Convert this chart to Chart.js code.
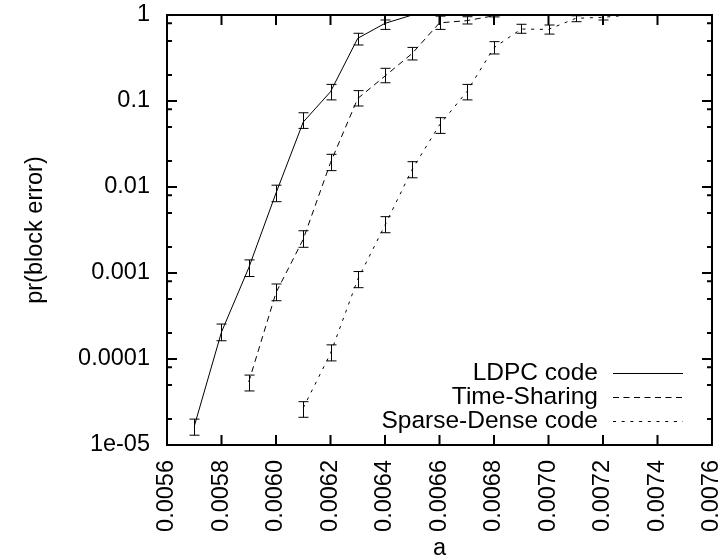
<!DOCTYPE html>
<html>
<head>
<meta charset="utf-8">
<script src="https://cdn.jsdelivr.net/npm/chart.js@4/dist/chart.umd.min.js"></script>
<style>
  html, body { margin: 0; padding: 0; background: #fff; }
  #wrap { width: 725px; height: 560px; }
</style>
</head>
<body>
<div id="wrap"><canvas id="c"></canvas></div>
<script>
// ---- data ----
const ldpcX  = [0.0057, 0.0058, 0.0059, 0.0060, 0.0061, 0.0062, 0.0063, 0.0064, 0.0065, 0.0066,
                0.0067, 0.0068, 0.0069, 0.0070, 0.0071, 0.0072, 0.0073, 0.0074, 0.0075, 0.0076];
const ldpcY  = [1.65e-5, 2.06e-4, 1.15e-3, 8.5e-3, 0.057, 0.128, 0.536, 0.80, 1, 1,
                1, 1, 1, 1, 1, 1, 1, 1, 1, 1];
const ldpcLo = [1.3e-5, 1.63e-4, 9.1e-4, 6.75e-3, 0.048, 0.103, 0.448, 0.68, 1, 1,
                1, 1, 1, 1, 1, 1, 1, 1, 1, 1];
const ldpcHi = [2.0e-5, 2.55e-4, 1.42e-3, 0.0105, 0.073, 0.156, 0.613, 0.875, 1, 1,
                1, 1, 1, 1, 1, 1, 1, 1, 1, 1];

const tsX  = [0.0059, 0.0060, 0.0061, 0.0062, 0.0063, 0.0064, 0.0065, 0.0066, 0.0067,
              0.0068, 0.0069, 0.0070, 0.0071, 0.0072, 0.0073, 0.0074, 0.0075, 0.0076];
const tsY  = [5.4e-5, 5.9e-4, 2.47e-3, 0.0192, 0.107, 0.195, 0.358, 0.81, 0.86,
              0.98, 1, 1, 1, 1, 1, 1, 1, 1];
const tsLo = [4.25e-5, 4.76e-4, 1.99e-3, 0.0155, 0.0875, 0.163, 0.30, 0.68, 0.786,
              0.95, 1, 1, 1, 1, 1, 1, 1, 1];
const tsHi = [6.5e-5, 7.45e-4, 3.1e-3, 0.024, 0.132, 0.24, 0.42, 0.97, 0.955,
              1, 1, 1, 1, 1, 1, 1, 1, 1];

const sdX  = [0.0061, 0.0062, 0.0063, 0.0064, 0.0065, 0.0066, 0.0067, 0.0068,
              0.0069, 0.0070, 0.0071, 0.0072, 0.0073, 0.0074, 0.0075, 0.0076];
const sdY  = [2.7e-5, 1.16e-4, 8.45e-4, 3.6e-3, 0.0161, 0.0526, 0.128, 0.417,
              0.687, 0.68, 0.915, 0.94, 1, 1, 1, 1];
const sdLo = [2.1e-5, 9.5e-5, 6.75e-4, 2.94e-3, 0.0128, 0.042, 0.103, 0.352,
              0.613, 0.60, 0.836, 0.875, 1, 1, 1, 1];
const sdHi = [3.19e-5, 1.46e-4, 1.04e-3, 4.52e-3, 0.0197, 0.064, 0.156, 0.49,
              0.78, 0.765, 0.98, 1, 1, 1, 1, 1];

const seriesNames = ['LDPC code', 'Time-Sharing', 'Sparse-Dense code'];

const xTicks = [0.0056, 0.0058, 0.0060, 0.0062, 0.0064, 0.0066, 0.0068, 0.0070, 0.0072, 0.0074, 0.0076];
const xTickLabels = ['0.0056', '0.0058', '0.0060', '0.0062', '0.0064', '0.0066', '0.0068', '0.0070', '0.0072', '0.0074', '0.0076'];
const yTicks = [1e-5, 1e-4, 1e-3, 1e-2, 1e-1, 1];
const yTickLabels = ['1e-05', '0.0001', '0.001', '0.01', '0.1', '1'];
const yMinorSteps = [2, 5, 8];

const DASHES = [[], [6, 4.5], [3, 5.7]];
const FONT = "'Liberation Sans', Arial, Helvetica, sans-serif";

Chart.defaults.font.family = FONT;
Chart.defaults.font.size = 23.5;
Chart.defaults.color = '#000';

function toPoints(xs, ys) {
    return xs.map((x, i) => ({ x: x, y: ys[i] }));
}

const errBars = [[ldpcX, ldpcLo, ldpcHi], [tsX, tsLo, tsHi], [sdX, sdLo, sdHi]];

// gnuplot style frame, inward ticks, error bars and in-plot key
const gnuplotLook = {
    id: 'gnuplotLook',
    afterDatasetsDraw(chart) {
        const ctx = chart.ctx;
        const xs = chart.scales.x, ys = chart.scales.y;
        ctx.save();
        ctx.strokeStyle = '#000';
        ctx.lineWidth = 1;
        errBars.forEach(([xv, lo, hi]) => {
            xv.forEach((x, i) => {
                if (lo[i] === hi[i]) return;
                const px = Math.round(xs.getPixelForValue(x)) + 0.5;
                const pLo = ys.getPixelForValue(lo[i]);
                const pHi = ys.getPixelForValue(hi[i]);
                ctx.beginPath();
                ctx.moveTo(px, pLo); ctx.lineTo(px, pHi);
                ctx.moveTo(px - 5, pLo); ctx.lineTo(px + 5, pLo);
                ctx.moveTo(px - 5, pHi); ctx.lineTo(px + 5, pHi);
                ctx.stroke();
            });
        });
        ctx.restore();
    },
    afterDraw(chart) {
        const ctx = chart.ctx;
        const a = chart.chartArea;
        const xs = chart.scales.x, ys = chart.scales.y;
        ctx.save();
        ctx.strokeStyle = '#000';
        ctx.lineWidth = 2;
        ctx.strokeRect(a.left, a.top, a.right - a.left, a.bottom - a.top);

        ctx.beginPath();
        xTicks.forEach(v => {
            const px = xs.getPixelForValue(v);
            ctx.moveTo(px, a.bottom); ctx.lineTo(px, a.bottom - 10);
            ctx.moveTo(px, a.top); ctx.lineTo(px, a.top + 10);
        });
        yTicks.forEach(v => {
            const py = ys.getPixelForValue(v);
            ctx.moveTo(a.left, py); ctx.lineTo(a.left + 10, py);
            ctx.moveTo(a.right, py); ctx.lineTo(a.right - 10, py);
            if (v < 1) {
                yMinorSteps.forEach(m => {
                    const pm = ys.getPixelForValue(v * m);
                    ctx.moveTo(a.left, pm); ctx.lineTo(a.left + 5, pm);
                    ctx.moveTo(a.right, pm); ctx.lineTo(a.right - 5, pm);
                });
            }
        });
        ctx.stroke();

        // key, bottom right inside the frame
        ctx.font = '24.5px ' + FONT;
        ctx.fillStyle = '#000';
        ctx.textAlign = 'right';
        ctx.textBaseline = 'middle';
        ctx.lineWidth = 1;
        seriesNames.forEach((name, i) => {
            const y = 373 + i * 24;
            ctx.fillText(name, 598, y);
            ctx.setLineDash(DASHES[i]);
            ctx.beginPath();
            ctx.moveTo(613, y + 0.5); ctx.lineTo(683, y + 0.5);
            ctx.stroke();
        });
        ctx.setLineDash([]);
        ctx.restore();
    }
};

function noPad(s) {
    s.paddingTop = 0; s.paddingBottom = 0; s.paddingLeft = 0; s.paddingRight = 0;
}

function lineSet(label, xs, ys, dash) {
    return {
        label: label,
        data: toPoints(xs, ys),
        borderColor: '#000',
        backgroundColor: '#000',
        borderWidth: 1,
        borderDash: dash,
        pointRadius: 0,
        fill: false,
        tension: 0,
    };
}

new Chart(document.getElementById('c'), {
    type: 'line',
    data: {
        datasets: [
            lineSet(seriesNames[0], ldpcX, ldpcY, DASHES[0]),
            lineSet(seriesNames[1], tsX, tsY, DASHES[1]),
            lineSet(seriesNames[2], sdX, sdY, DASHES[2]),
        ]
    },
    options: {
        responsive: true,
        maintainAspectRatio: false,
        animation: false,
        layout: { padding: { top: 15, right: 13, left: 0, bottom: 0 } },
        scales: {
            x: {
                type: 'linear',
                min: 0.0056,
                max: 0.0076,
                grid: { display: false, drawTicks: false },
                border: { display: false },
                afterBuildTicks: s => { s.ticks = xTicks.map(v => ({ value: v })); },
                afterFit: s => { s.height = 115; noPad(s); },
                ticks: {
                    autoSkip: false,
                    minRotation: 90,
                    maxRotation: 90,
                    padding: 15,
                    callback: (v, i) => xTickLabels[i],
                },
                title: { display: true, text: 'a', padding: { top: 0, bottom: -3 } },
            },
            y: {
                type: 'logarithmic',
                min: 1e-5,
                max: 1,
                grid: { display: false, drawTicks: false },
                border: { display: false },
                afterBuildTicks: s => { s.ticks = yTicks.map(v => ({ value: v })); },
                afterFit: s => { s.width = 167; noPad(s); },
                ticks: {
                    autoSkip: false,
                    padding: 17,
                    callback: (v, i) => yTickLabels[i],
                },
                title: { display: true, text: 'pr(block error)', padding: { top: 21 } },
            }
        },
        plugins: {
            legend: { display: false },
            tooltip: { enabled: false },
        }
    },
    plugins: [gnuplotLook]
});
</script>
</body>
</html>
